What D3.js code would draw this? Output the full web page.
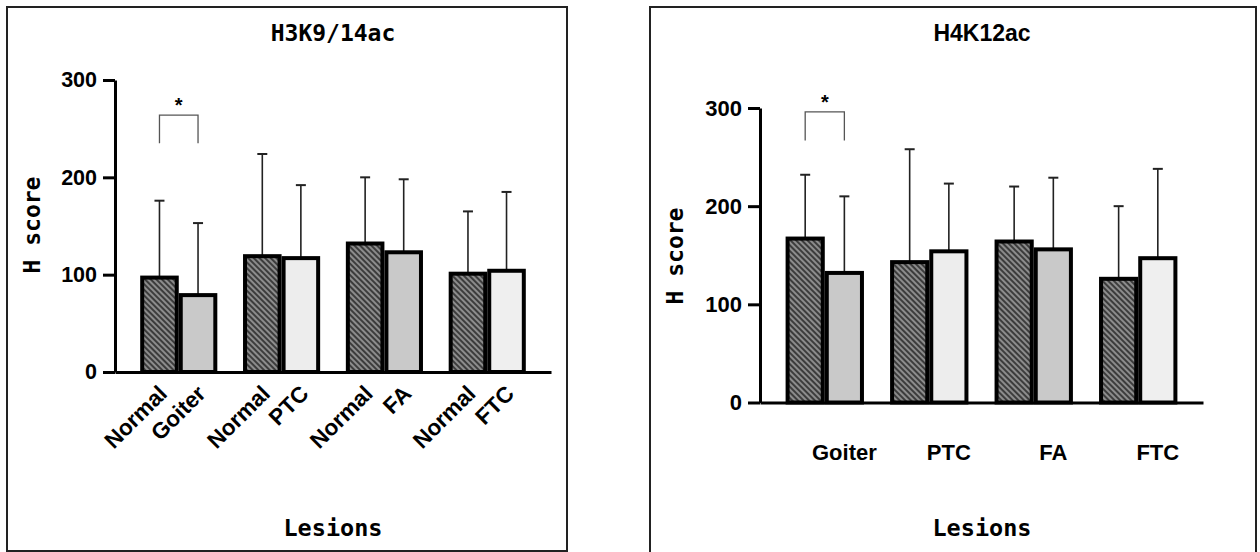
<!DOCTYPE html>
<html>
<head>
<meta charset="utf-8">
<script src="https://cdn.jsdelivr.net/npm/d3@7"></script>
<style>
  body { margin: 0; background: #fff; }
  svg { display: block; }
</style>
</head>
<body>
<script>
// lesion groups, each compared with its own normal tissue
let lesions = ["Goiter", "PTC", "FA", "FTC"];
let yTicks = [0, 100, 200, 300];

// H3K9/14ac
let h3NormalMean = [97, 119, 132, 101];
let h3NormalSD = [79, 105, 68, 64];
let h3LesionMean = [79, 117, 123, 104];
let h3LesionSD = [74, 75, 75, 81];

// H4K12ac
let h4NormalMean = [167, 143, 164, 126];
let h4NormalSD = [65, 115, 56, 74];
let h4LesionMean = [132, 154, 156, 147];
let h4LesionSD = [78, 69, 73, 91];

let lesionFill = ["#c9c9c9", "#ededed", "#c9c9c9", "#efefef"];

let width = 1260;
let height = 552;

let svg = d3.select("body").append("svg")
  .attr("width", width)
  .attr("height", height);

let defs = svg.append("defs");
let hatch = defs.append("pattern")
  .attr("id", "hatch")
  .attr("patternUnits", "userSpaceOnUse")
  .attr("width", 4)
  .attr("height", 4)
  .attr("patternTransform", "rotate(-45)");
hatch.append("rect").attr("width", 4).attr("height", 4).attr("fill", "#8c8c8c");
hatch.append("rect").attr("width", 2).attr("height", 4).attr("fill", "#3c3c3c");

let mono = "'DejaVu Sans Mono', monospace";
let sans = "'Liberation Sans', Arial, sans-serif";

function drawPanel(p) {
  let g = svg.append("g");

  // frame
  g.append("rect")
    .attr("x", p.box[0]).attr("y", p.box[1])
    .attr("width", p.box[2]).attr("height", p.box[3])
    .attr("fill", "none")
    .attr("stroke", "#222")
    .attr("stroke-width", 2);

  let yScale = d3.scaleLinear().domain([0, 300]).range([p.y0, p.y300]);
  let xScale = d3.scaleBand().domain(lesions)
    .range([p.x0, p.x1])
    .paddingInner(0.25)
    .paddingOuter(0.245);
  let inner = d3.scaleBand().domain(["normal", "lesion"]).range([0, xScale.bandwidth()]);

  let rows = lesions.map((d, i) => [
    { group: d, key: "normal", mean: p.nMean[i], sd: p.nSD[i], fill: "url(#hatch)" },
    { group: d, key: "lesion", mean: p.lMean[i], sd: p.lSD[i], fill: lesionFill[i] }
  ]).flat();

  let cx = (d) => xScale(d.group) + inner(d.key) + inner.bandwidth() / 2;

  // error bars (upper only)
  let err = g.append("g").selectAll("g").data(rows).join("g");
  err.append("line")
    .attr("x1", cx).attr("x2", cx)
    .attr("y1", (d) => yScale(d.mean))
    .attr("y2", (d) => yScale(d.mean + d.sd))
    .attr("stroke", "#222").attr("stroke-width", 1.6);
  err.append("line")
    .attr("x1", (d) => cx(d) - 5).attr("x2", (d) => cx(d) + 5)
    .attr("y1", (d) => yScale(d.mean + d.sd))
    .attr("y2", (d) => yScale(d.mean + d.sd))
    .attr("stroke", "#222").attr("stroke-width", 2);

  // bars
  g.append("g").selectAll("rect").data(rows).join("rect")
    .attr("x", (d) => xScale(d.group) + inner(d.key) + 2)
    .attr("width", inner.bandwidth() - 4)
    .attr("y", (d) => yScale(d.mean))
    .attr("height", (d) => yScale(0) - yScale(d.mean))
    .attr("fill", (d) => d.fill)
    .attr("stroke", "#000")
    .attr("stroke-width", 4);

  // axes
  let yAxis = d3.axisLeft(yScale).tickValues(yTicks).tickSize(12).tickPadding(6).tickSizeOuter(0);
  let ya = g.append("g")
    .attr("transform", "translate(" + p.x0 + ",0)")
    .call(yAxis);
  ya.selectAll("path, line").attr("stroke", "#000").attr("stroke-width", 3);
  ya.selectAll("text")
    .attr("font-family", sans).attr("font-weight", "bold")
    .attr("font-size", p.tickFont).attr("fill", "#000");

  let xAxis = d3.axisBottom(xScale).tickSize(0).tickFormat("").tickSizeOuter(0);
  let xa = g.append("g")
    .attr("transform", "translate(0," + p.y0 + ")")
    .call(xAxis);
  xa.select("path").attr("stroke", "#000").attr("stroke-width", 3);

  // category labels
  if (p.rotated) {
    g.append("g").selectAll("text").data(rows).join("text")
      .attr("transform", (d) => "translate(" + (cx(d) + 9) + "," + (p.y0 + 23) + ") rotate(-45)")
      .attr("text-anchor", "end")
      .attr("font-family", sans).attr("font-weight", "bold")
      .attr("font-size", 22.5)
      .text((d) => d.key == "normal" ? "Normal" : d.group);
  } else {
    g.append("g").selectAll("text").data(rows.filter((d) => d.key == "lesion")).join("text")
      .attr("x", cx)
      .attr("y", p.y0 + 57)
      .attr("text-anchor", "middle")
      .attr("font-family", sans).attr("font-weight", "bold")
      .attr("font-size", 22)
      .text((d) => d.group);
  }

  // significance bracket
  let first = rows.slice(0, 2);
  let bx1 = cx(first[0]);
  let bx2 = cx(first[1]);
  let line = d3.line();
  g.append("path")
    .attr("d", line([[bx1, yScale(p.bracket[1])], [bx1, yScale(p.bracket[0])],
                     [bx2, yScale(p.bracket[0])], [bx2, yScale(p.bracket[1])]]))
    .attr("fill", "none").attr("stroke", "#555").attr("stroke-width", 1.3);
  g.append("text")
    .attr("x", (bx1 + bx2) / 2)
    .attr("y", yScale(p.bracket[0]) - 3)
    .attr("text-anchor", "middle")
    .attr("font-family", sans).attr("font-weight", "bold")
    .attr("font-size", 20)
    .text("*");

  // titles
  g.append("text")
    .attr("x", p.titleX).attr("y", 41)
    .attr("text-anchor", "middle")
    .attr("font-family", p.titleFont).attr("font-weight", "bold")
    .attr("font-size", p.titleSize)
    .text(p.title);

  g.append("text")
    .attr("transform", "translate(" + p.yLabel[0] + "," + p.yLabel[1] + ") rotate(-90)")
    .attr("text-anchor", "middle")
    .attr("dominant-baseline", "central")
    .attr("font-family", mono).attr("font-weight", "bold")
    .attr("font-size", 23)
    .text("H score");

  g.append("text")
    .attr("x", p.titleX).attr("y", 536)
    .attr("text-anchor", "middle")
    .attr("font-family", mono).attr("font-weight", "bold")
    .attr("font-size", 23.5)
    .text("Lesions");
}

drawPanel({
  box: [7, 7, 560, 544],
  x0: 115, x1: 551, y0: 372, y300: 80,
  nMean: h3NormalMean, nSD: h3NormalSD, lMean: h3LesionMean, lSD: h3LesionSD,
  rotated: true,
  bracket: [264, 235],
  tickFont: 21.5,
  title: "H3K9/14ac", titleX: 333, titleFont: mono, titleSize: 23,
  yLabel: [32, 225]
});

drawPanel({
  box: [650, 7, 606, 552],
  x0: 760, x1: 1203, y0: 402.5, y300: 108,
  nMean: h4NormalMean, nSD: h4NormalSD, lMean: h4LesionMean, lSD: h4LesionSD,
  rotated: false,
  bracket: [296, 267],
  tickFont: 22,
  title: "H4K12ac", titleX: 982, titleFont: sans, titleSize: 23,
  yLabel: [675, 256]
});
</script>
</body>
</html>
